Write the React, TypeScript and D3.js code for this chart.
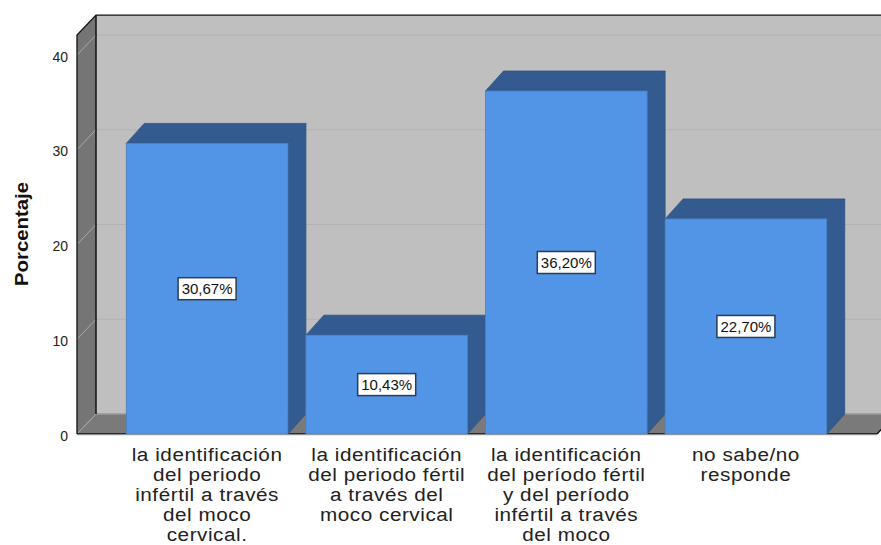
import React from "react";
import * as d3 from "d3";

const categories = ["a", "b", "c", "d"];
const values = [30.67, 10.43, 36.2, 22.7];
const valueLabels = ["30,67%", "10,43%", "36,20%", "22,70%"];
const catLines = [
  ["la identificación", "del periodo", "infértil a través", "del moco", "cervical."],
  ["la identificación", "del periodo fértil", "a través del", "moco cervical"],
  ["la identificación", "del período fértil", "y del período", "infértil a través", "del moco"],
  ["no sabe/no", "responde"],
];
const ticks = [0, 10, 20, 30, 40];

const dx = 19;
const dy = -20;
const barDx = 18;
const left = 77;
const right = 877;
const y = d3.scaleLinear().domain([0, 40]).range([434, 55]);
const x = d3.scaleBand<string>().domain(categories).range([115.5, 837.5]).paddingInner(0.1).paddingOuter(0.06);
const topVal = 42.1;
const font = "'Liberation Sans', Arial, sans-serif";

export default function App() {
  const poly = (p: number[][]) => p.map((q) => q.join(",")).join(" ");
  const b0 = y(0);
  const t = y(topVal);
  return (
    <svg width={881} height={545} style={{ position: "absolute", left: 0, top: 0, background: "#fff" }} fontFamily={font}>
      <rect x={left + dx} y={t + dy} width={right - left} height={b0 - t} fill="#bfbfbf" />
      {ticks.slice(1).map((v) => (
        <line key={v} x1={left + dx} x2={right + dx} y1={y(v) + dy} y2={y(v) + dy} stroke="#b2b2b2" strokeWidth={1.2} />
      ))}
      <polygon points={poly([[left, t], [left + dx, t + dy], [left + dx, b0 + dy], [left, b0]])} fill="#757575" />
      <polygon points={poly([[left, b0], [left + dx, b0 + dy], [right + dx, b0 + dy], [right, b0]])} fill="#7a7a7a" />
      <line x1={left + dx} x2={right + dx} y1={b0 + dy} y2={b0 + dy} stroke="#989898" strokeWidth={1.5} />
      {ticks.map((v) => (
        <line key={v} x1={left} x2={left + dx} y1={y(v)} y2={y(v) + dy} stroke="#a8a8a8" strokeWidth={1} />
      ))}
      <path d={`M${left},${b0} L${left},${t} L${left + dx},${t + dy} L${right + dx},${t + dy}`} fill="none" stroke="#111" strokeWidth={1.3} />
      <line x1={left + dx} x2={left + dx} y1={t + dy} y2={b0 + dy} stroke="#111" strokeWidth={1.5} />
      <line x1={left} x2={right} y1={b0} y2={b0} stroke="#111" strokeWidth={1.3} />
      <line x1={right} x2={right + dx} y1={b0} y2={b0 + dy} stroke="#111" strokeWidth={1.3} />
      {categories.map((c, i) => {
        const x0 = x(c)!;
        const w = x.bandwidth();
        const yt = y(values[i]);
        const cx = x0 + w / 2;
        const cy = (yt + b0) / 2;
        return (
          <g key={c}>
            <polygon points={poly([[x0 + w, yt], [x0 + w + barDx, yt + dy], [x0 + w + barDx, b0 + dy], [x0 + w, b0]])} fill="#345b8f" stroke="#2f5484" strokeWidth={0.8} />
            <polygon points={poly([[x0, yt], [x0 + barDx, yt + dy], [x0 + w + barDx, yt + dy], [x0 + w, yt]])} fill="#345b8f" stroke="#2f5484" strokeWidth={0.8} />
            <rect x={x0} y={yt} width={w} height={b0 - yt} fill="#5294e6" stroke="#4a7fc0" strokeWidth={0.8} />
            <rect x={cx - 29} y={cy - 11} width={58} height={22} fill="#fff" stroke="#2b3d52" strokeWidth={1.5} />
            <text x={cx} y={cy + 5.5} textAnchor="middle" fontSize={15} fill="#111">{valueLabels[i]}</text>
          </g>
        );
      })}
      <line x1={left} x2={right} y1={b0 + 1} y2={b0 + 1} stroke="#cfcfcf" strokeWidth={1} />
      {ticks.map((v) => (
        <text key={v} x={68} y={y(v) + 6.5} textAnchor="end" fontSize={14} fill="#222">{v}</text>
      ))}
      <text transform="translate(28,234) rotate(-90)" textAnchor="middle" fontSize={18.5} fontWeight="bold" fill="#111" textLength={104} lengthAdjust="spacingAndGlyphs">Porcentaje</text>
      {categories.map((c, i) => (
        <g key={c} transform={`translate(${x(c)! + x.bandwidth() / 2},0) scale(1.09,1)`}>
          <text textAnchor="middle" fontSize={19} letterSpacing={0.5} fill="#222">
            {catLines[i].map((l, j) => (
              <tspan key={j} x={0} y={461 + j * 19.9}>{l}</tspan>
            ))}
          </text>
        </g>
      ))}
    </svg>
  );
}
